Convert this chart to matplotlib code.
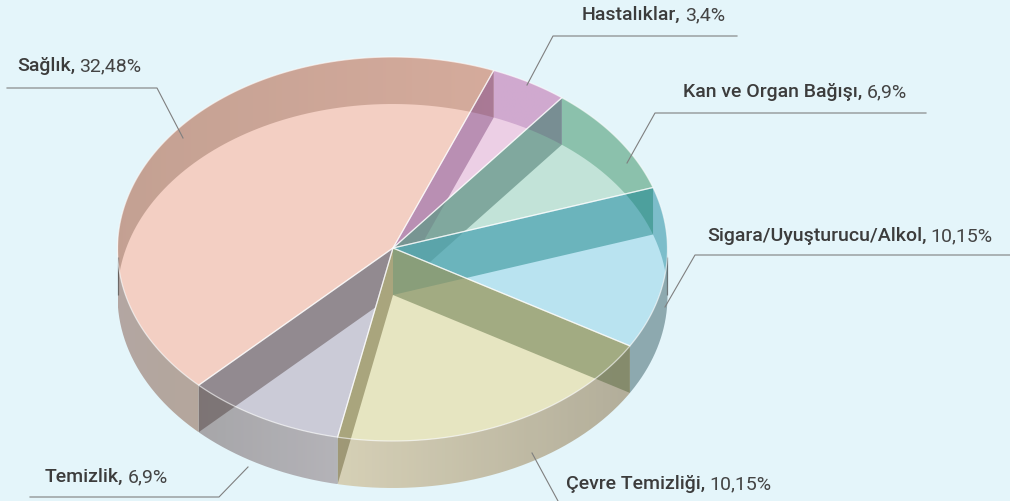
import numpy as np
import matplotlib
matplotlib.use("Agg")
import matplotlib.pyplot as plt
from matplotlib.colors import to_rgb
from matplotlib.patches import Polygon, PathPatch
from matplotlib.path import Path

# data, clockwise from the first slice
categories = ["Hastalıklar", "Kan ve Organ Bağışı", "Sigara/Uyuşturucu/Alkol",
              "Çevre Temizliği", "Temizlik", "Sağlık"]
slice_sizes = [3.4, 6.9, 10.15, 14.75, 6.9, 32.48]
value_labels = ["3,4%", "6,9%", "10,15%", "10,15%", "6,9%", "32,48%"]
start_angle = 68.4

# colours per slice
face_colors = ["#eccfe5", "#c2e3d8", "#b9e3f0", "#e6e5c1", "#cbcbd7", "#f3cfc3"]
back_colors = [("#d0a9cf", "#d0a9cf"), ("#8cc2ac", "#8cc2ac"), ("#7cbdca", "#7cbdca"),
               ("#c0c0a0", "#c0c0a0"), ("#b0b0b8", "#b0b0b8"), ("#c4a193", "#d5ab9c")]
front_colors = [("#d0a9cf", "#d0a9cf"), ("#8cc2ac", "#8cc2ac"), ("#8ea9b0", "#8ea9b0"),
                ("#d6d0b6", "#b3ae9a"), ("#a7a6a9", "#b4b3b8"), ("#b3a6a2", "#b5a69c")]
wall_start = ["#b98fb3", "#80a89e", "#63b4bc", "#a3ab83", None, None]
wall_end = [None, None, None, "#a9a57e", "#928a90", None]
# whether a wall shows faintly through the following slice
wall_reach = [1, 1, 1, 0, 0, 0]

# label layout
label_pos = [(582, 15), (683, 92), (707, 236), (566, 484), (45, 477), (17, 66)]
leaders = [[(527, 85), (553, 36), (737, 36)],
           [(627, 163), (655, 113), (926, 113)],
           [(665, 307), (695, 255), (1010, 255)],
           [(532, 453), (558, 501)],
           [(248, 467), (219, 497), (30, 497)],
           [(183, 138), (157, 88), (7, 88)]]

BG = "#e4f5fa"
CX, CY, RX, RY, DEPTH = 392.5, 249.0, 275.0, 192.0, 47.0
APEX_Y = 248.0
A_BACK, A_FRONT, A_WALL = 0.35, 0.85, 0.42

plt.rcParams["font.family"] = ["Roboto", "DejaVu Sans"]
fig = plt.figure(figsize=(10.1, 5.01), dpi=100, facecolor=BG)
ax = fig.add_axes([0, 0, 1, 1])
ax.set_axis_off()


def rim(t_deg, dy=0.0, scale=1.0):
    t = np.radians(t_deg)
    return np.column_stack([CX + scale * RX * np.cos(t), CY - scale * RY * np.sin(t) + dy])


def source(target, under, a):
    t, u = np.array(to_rgb(target)), np.array(to_rgb(under))
    return np.clip((t - (1 - a) * u) / a, 0, 1)


def gradient_strip(t0, t1, pair, under, a, z):
    """Outer wall from angle t0 to t1, coloured left-to-right along x."""
    if abs(t1 - t0) < 1e-6:
        return
    ts = np.linspace(t0, t1, 80)
    pts = np.vstack([rim(ts), rim(ts[::-1], DEPTH)])
    c0, c1 = source(pair[0], under, a), source(pair[1], under, a)
    w = np.linspace(0, 1, 64)[None, :, None]
    img = np.dstack([(1 - w) * c0 + w * c1, np.full((1, 64, 1), a)])
    x0, x1 = pts[:, 0].min(), pts[:, 0].max()
    y0, y1 = pts[:, 1].min(), pts[:, 1].max()
    im = ax.imshow(img, extent=(x0, x1, y1, y0), aspect="auto", zorder=z,
                   interpolation="bilinear")
    im.set_clip_path(PathPatch(Path(np.vstack([pts, pts[0]])), transform=ax.transData))


sizes = np.array(slice_sizes)
spans = sizes / sizes.sum() * 360.0
starts = start_angle - np.concatenate([[0], np.cumsum(spans)[:-1]])
ends = starts - spans
apex = np.array([CX + 0.5, APEX_Y])


def sector_clip(a0, a1):
    sweep = rim(np.linspace(a0, a1, 120), scale=1.6)
    return PathPatch(Path(np.vstack([apex, sweep, apex]), closed=True), transform=ax.transData)


# top faces
for s, e, col in zip(starts, ends, face_colors):
    ts = np.linspace(s, e, 120)
    ax.add_patch(Polygon(np.vstack([apex, rim(ts)]), closed=True, fc=col, ec="none", zorder=1))

# walls, in an order that lets the large slice lie underneath
order = [5, 0, 1, 2, 3, 4]
n = len(sizes)
for i in order:
    s, e = starts[i], ends[i]
    z = order.index(i) * 0.1
    ts = np.linspace(s, e, 721)
    back = np.sin(np.radians(ts)) > 0
    idx = np.flatnonzero(np.diff(back.astype(int))) + 1
    for run, fl in zip(np.split(ts, idx), np.split(back, idx)):
        if fl[0]:
            gradient_strip(run[0], run[-1], back_colors[i], face_colors[i], A_BACK, 2 + z)
        else:
            gradient_strip(run[0], run[-1], front_colors[i], BG, A_FRONT, 2 + z)
    for ang, tgt in ((s, wall_start[i]), (e, wall_end[i])):
        if tgt is None:
            continue
        p = rim(np.array([ang]))[0]
        quad = [apex, p, p + [0, DEPTH], apex + [0, DEPTH]]
        col = source(tgt, face_colors[i], A_WALL)
        own = Polygon(quad, closed=True, fc=col, alpha=A_WALL, ec="none", zorder=3 + z)
        ax.add_patch(own)
        own.set_clip_path(sector_clip(s, e))
        if wall_reach[i]:
            faint = Polygon(quad, closed=True, fc=col, alpha=A_WALL * 0.45, ec="none", zorder=3 + z)
            ax.add_patch(faint)
            faint.set_clip_path(sector_clip(e, ends[i + 1]))

# edge-on slivers at the two extremes of the cylinder
for x in (CX - RX + 0.5, CX + RX - 0.5):
    ax.plot([x, x], [CY + 8, CY + DEPTH - 1], color="#4a4a4a", lw=0.9, alpha=0.65, zorder=4,
            solid_capstyle="butt")

# light outlines of the top faces
for s, e in zip(starts, ends):
    ts = np.linspace(s, e, 120)
    ax.add_patch(Polygon(np.vstack([apex, rim(ts)]), closed=True, fc="none",
                         ec="white", lw=0.9, alpha=0.6, zorder=5))

# leaders and labels
for pts in leaders:
    xs, ys = zip(*pts)
    ax.plot(xs, ys, color="#7f7f7f", lw=0.8, zorder=6, solid_joinstyle="miter")

ax.set_xlim(0, 1010)
ax.set_ylim(501, 0)

renderer = fig.canvas.get_renderer()
FS = 14.0
for name, val, (x, y) in zip(categories, value_labels, label_pos):
    t = ax.text(x, y, name + ",", fontsize=FS, fontweight="medium", color="#3c3c3c",
                va="center", ha="left", zorder=7)
    w = t.get_window_extent(renderer).width
    ax.text(x + w + 4.0, y, val, fontsize=FS, color="#444444", va="center", ha="left", zorder=7)

fig.savefig("out.png", dpi=100, facecolor=BG)
